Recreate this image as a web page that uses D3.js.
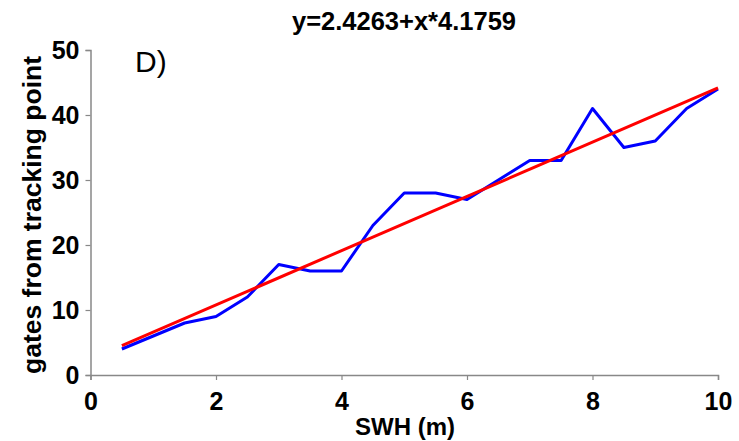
<!DOCTYPE html>
<html>
<head>
<meta charset="utf-8">
<script src="https://cdn.jsdelivr.net/npm/d3@7"></script>
<style>
  body { margin: 0; background: #fff; }
  text { font-family: "Liberation Sans", Arial, sans-serif; }
</style>
</head>
<body>
<div id="chart"></div>
<script>
// observed values (gates from tracking point vs SWH)
var swh = [0.5, 1, 1.5, 2, 2.5, 3, 3.5, 4, 4.5, 5, 5.5, 6, 6.5, 7, 7.5, 8, 8.5, 9, 9.5, 10];
var gates = [4, 6, 8, 9, 12, 17, 16, 16, 23, 28, 28, 27, 30, 33, 33, 41, 35, 36, 41, 44];

// fitted line
var fitIntercept = 2.4263,
	fitSlope = 4.1759,
	fitRange = [0.5, 10];

var xTicks = [0, 2, 4, 6, 8, 10],
	yTicks = [0, 10, 20, 30, 40, 50];

// svg size
var width = 739,
	height = 441;

var svg = d3.select("#chart").append("svg")
	.attr("width", width)
	.attr("height", height);

// scales
var x = d3.scaleLinear().domain([0, 10]).range([90.5, 718]),
	y = d3.scaleLinear().domain([0, 50]).range([375, 50]);

// x axis
var xAxis = svg.append("g")
	.attr("transform", "translate(0," + y(0) + ")")
	.call(d3.axisBottom(x).tickValues(xTicks).tickSize(5).tickPadding(12));

// y axis
var yAxis = svg.append("g")
	.attr("transform", "translate(" + x(0) + ",0)")
	.call(d3.axisLeft(y).tickValues(yTicks).tickSize(5).tickPadding(6));

[xAxis, yAxis].forEach(function(ax){
	ax.select(".domain").attr("stroke", "#888").attr("stroke-width", 1.5);
	ax.selectAll(".tick line").attr("stroke", "#888").attr("stroke-width", 1.2);
	ax.selectAll(".tick text")
		.attr("fill", "#000")
		.style("font-size", "25px")
		.style("font-weight", "bold")
		.style("font-family", "'Liberation Sans', Arial, sans-serif");
});

// blue observed line
var line = d3.line()
	.x(function(d, i){ return x(swh[i]); })
	.y(function(d){ return y(d); });

svg.append("path")
	.datum(gates)
	.attr("fill", "none")
	.attr("stroke", "#0000ff")
	.attr("stroke-width", 3)
	.attr("stroke-linejoin", "round")
	.attr("d", line);

// red fitted line
var fitLine = d3.line()
	.x(function(d){ return x(d); })
	.y(function(d){ return y(fitIntercept + fitSlope * d); });

svg.append("path")
	.datum(fitRange)
	.attr("fill", "none")
	.attr("stroke", "#ff0000")
	.attr("stroke-width", 3)
	.attr("d", fitLine);

// title
svg.append("text")
	.attr("x", 404)
	.attr("y", 30)
	.attr("text-anchor", "middle")
	.style("font-size", "25.5px")
	.style("font-weight", "bold")
	.text("y=" + fitIntercept + "+x*" + fitSlope);

// panel label
svg.append("text")
	.attr("x", 135)
	.attr("y", 72)
	.style("font-size", "30px")
	.text("D)");

// axis labels
svg.append("text")
	.attr("x", 405)
	.attr("y", 435)
	.attr("text-anchor", "middle")
	.style("font-size", "24px")
	.style("font-weight", "bold")
	.text("SWH (m)");

svg.append("text")
	.attr("transform", "translate(41,215) rotate(-90)")
	.attr("text-anchor", "middle")
	.style("font-size", "26.5px")
	.style("font-weight", "bold")
	.text("gates from tracking point");
</script>
</body>
</html>
